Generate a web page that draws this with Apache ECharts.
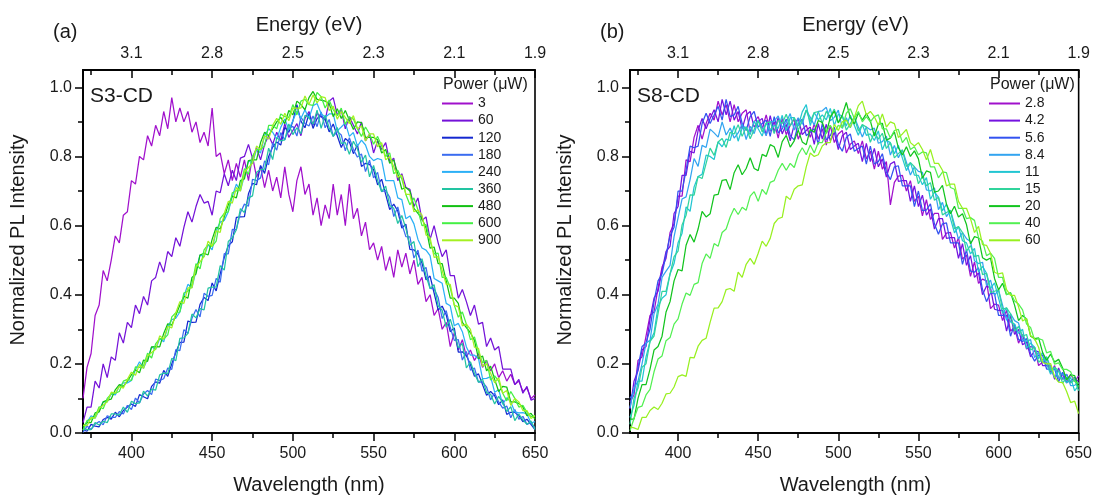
<!DOCTYPE html>
<html>
<head>
<meta charset="utf-8">
<script src="https://cdn.jsdelivr.net/npm/echarts@6/dist/echarts.min.js"></script>
<style>html,body{margin:0;padding:0;background:#fff}#c{width:1095px;height:495px}</style>
</head>
<body>
<div id="c"></div>
<script>
// ---------- DATA (2.5 nm steps) ----------
const wavelength = [
370,372.5,375,377.5,380,382.5,385,387.5,390,392.5,395,397.5,
400,402.5,405,407.5,410,412.5,415,417.5,420,422.5,425,427.5,
430,432.5,435,437.5,440,442.5,445,447.5,450,452.5,455,457.5,
460,462.5,465,467.5,470,472.5,475,477.5,480,482.5,485,487.5,
490,492.5,495,497.5,500,502.5,505,507.5,510,512.5,515,517.5,
520,522.5,525,527.5,530,532.5,535,537.5,540,542.5,545,547.5,
550,552.5,555,557.5,560,562.5,565,567.5,570,572.5,575,577.5,
580,582.5,585,587.5,590,592.5,595,597.5,600,602.5,605,607.5,
610,612.5,615,617.5,620,622.5,625,627.5,630,632.5,635,637.5,
640,642.5,645,647.5,650];

const wlTicks = [400,450,500,550,600,650];
const wlMinorTicks = [375,425,475,525,575,625];
const energyLabels = ['3.1','2.8','2.5','2.3','2.1','1.9'];
const yTicks = [0,0.2,0.4,0.6,0.8,1.0];
const yMinorTicks = [0.1,0.3,0.5,0.7,0.9];

// Panel (a) S3-CD, excitation power in µW
const powersA = ['3','60','120','180','240','360','480','600','900'];
const a3 = [0.10,0.19,0.23,0.34,0.37,0.47,0.44,0.50,0.57,0.55,0.63,0.64,
0.73,0.72,0.80,0.79,0.86,0.83,0.89,0.86,0.93,0.88,0.97,0.90,
0.94,0.90,0.93,0.87,0.90,0.84,0.87,0.83,0.94,0.80,0.81,0.75,
0.79,0.73,0.78,0.74,0.79,0.73,0.80,0.74,0.77,0.71,0.76,0.70,
0.74,0.68,0.77,0.69,0.64,0.73,0.77,0.69,0.72,0.63,0.68,0.60,
0.66,0.62,0.72,0.63,0.69,0.60,0.72,0.62,0.65,0.57,0.61,0.53,
0.55,0.50,0.54,0.47,0.51,0.45,0.53,0.48,0.52,0.46,0.50,0.43,
0.45,0.38,0.40,0.34,0.36,0.30,0.32,0.25,0.29,0.24,0.27,0.22,
0.24,0.21,0.23,0.19,0.21,0.18,0.20,0.16,0.18,0.15,0.17,0.14,
0.15,0.12,0.13,0.10,0.11];
const a60 = [0.03,0.075,0.075,0.15,0.13,0.20,0.16,0.22,0.21,0.29,0.26,0.32,
0.305,0.37,0.345,0.395,0.37,0.44,0.45,0.495,0.465,0.525,0.51,0.565,
0.54,0.595,0.64,0.61,0.655,0.69,0.665,0.67,0.63,0.70,0.695,0.75,
0.715,0.76,0.73,0.795,0.80,0.835,0.795,0.825,0.79,0.835,0.86,0.835,
0.87,0.845,0.895,0.855,0.875,0.895,0.86,0.91,0.93,0.89,0.925,0.915,
0.905,0.96,0.97,0.92,0.935,0.88,0.915,0.89,0.865,0.90,0.845,0.865,
0.81,0.845,0.82,0.84,0.785,0.795,0.73,0.75,0.71,0.705,0.655,0.68,
0.615,0.625,0.56,0.60,0.55,0.51,0.53,0.455,0.455,0.39,0.415,0.38,
0.34,0.37,0.315,0.32,0.25,0.275,0.24,0.25,0.185,0.185,0.185,0.14,
0.155,0.115,0.135,0.095,0.10];
const a120 = [0.009,0.005,0.025,0.02,0.018,0.039,0.045,0.04,0.06,0.047,0.065,0.075,
0.084,0.077,0.111,0.105,0.099,0.135,0.148,0.144,0.181,0.164,0.20,0.233,
0.262,0.263,0.324,0.32,0.321,0.372,0.392,0.383,0.434,0.411,0.46,0.507,
0.542,0.553,0.624,0.625,0.626,0.692,0.722,0.718,0.774,0.751,0.80,0.827,
0.842,0.833,0.884,0.87,0.902,0.95,0.902,0.883,0.924,0.881,0.91,0.917,
0.907,0.871,0.894,0.86,0.826,0.852,0.842,0.808,0.834,0.771,0.78,0.777,
0.762,0.718,0.734,0.69,0.646,0.662,0.642,0.593,0.604,0.531,0.53,0.517,
0.492,0.443,0.454,0.405,0.356,0.367,0.342,0.293,0.304,0.234,0.235,0.224,
0.198,0.164,0.171,0.14,0.109,0.12,0.108,0.082,0.096,0.054,0.06,0.06,
0.05,0.033,0.04,0.025,0.01];
const a180 = [0.002,0.02,0.01,0.025,0.033,0.024,0.05,0.045,0.045,0.062,0.055,0.08,
0.068,0.101,0.087,0.113,0.123,0.111,0.156,0.152,0.157,0.188,0.184,0.241,
0.238,0.299,0.288,0.332,0.357,0.336,0.404,0.395,0.398,0.447,0.436,0.519,
0.518,0.589,0.588,0.637,0.662,0.656,0.734,0.73,0.738,0.787,0.776,0.839,
0.818,0.869,0.848,0.882,0.887,0.859,0.914,0.895,0.888,0.917,0.886,0.929,
0.883,0.907,0.858,0.872,0.862,0.816,0.854,0.82,0.798,0.807,0.756,0.789,
0.738,0.754,0.698,0.702,0.682,0.626,0.654,0.605,0.568,0.567,0.506,0.529,
0.468,0.479,0.418,0.417,0.392,0.331,0.354,0.305,0.268,0.27,0.211,0.236,
0.182,0.188,0.147,0.148,0.133,0.096,0.116,0.09,0.072,0.078,0.044,0.068,
0.04,0.048,0.025,0.03,0.015];
const a240 = [0.008,0.031,0.05,0.043,0.066,0.09,0.09,0.113,0.11,0.135,0.145,0.145,
0.152,0.183,0.206,0.187,0.215,0.249,0.242,0.273,0.264,0.308,0.328,0.332,
0.35,0.395,0.43,0.42,0.47,0.515,0.51,0.545,0.53,0.585,0.61,0.615,
0.64,0.685,0.72,0.70,0.745,0.788,0.78,0.82,0.81,0.86,0.88,0.87,
0.85,0.884,0.908,0.877,0.903,0.932,0.91,0.935,0.91,0.947,0.953,0.924,
0.913,0.923,0.923,0.874,0.885,0.897,0.858,0.869,0.83,0.847,0.833,0.80,
0.788,0.794,0.79,0.73,0.73,0.73,0.68,0.675,0.62,0.628,0.605,0.56,
0.535,0.529,0.513,0.447,0.44,0.433,0.375,0.368,0.31,0.317,0.293,0.249,
0.225,0.225,0.215,0.157,0.158,0.163,0.118,0.125,0.083,0.102,0.09,0.061,
0.058,0.059,0.055,0.029,0.033];
const a360 = [0.014,0.01,0.01,0.03,0.023,0.034,0.03,0.055,0.055,0.052,0.075,0.06,
0.092,0.085,0.087,0.121,0.107,0.127,0.124,0.168,0.173,0.172,0.216,0.209,
0.274,0.275,0.288,0.344,0.333,0.36,0.356,0.419,0.422,0.423,0.484,0.471,
0.554,0.565,0.588,0.649,0.638,0.68,0.686,0.754,0.762,0.763,0.824,0.791,
0.854,0.845,0.848,0.894,0.863,0.883,0.866,0.919,0.912,0.893,0.934,0.881,
0.919,0.883,0.858,0.884,0.838,0.84,0.806,0.844,0.822,0.783,0.804,0.741,
0.774,0.73,0.698,0.714,0.658,0.65,0.606,0.629,0.592,0.543,0.554,0.481,
0.504,0.455,0.418,0.429,0.368,0.355,0.306,0.329,0.292,0.246,0.259,0.188,
0.206,0.172,0.147,0.156,0.117,0.112,0.084,0.106,0.088,0.062,0.076,0.036,
0.055,0.038,0.025,0.035,0.01];
const a480 = [0.018,0.031,0.03,0.058,0.061,0.09,0.095,0.098,0.125,0.14,0.135,0.15,
0.168,0.183,0.174,0.211,0.207,0.249,0.25,0.249,0.288,0.316,0.312,0.34,
0.37,0.395,0.39,0.45,0.46,0.515,0.52,0.515,0.56,0.595,0.59,0.625,
0.66,0.685,0.68,0.73,0.735,0.788,0.79,0.79,0.84,0.87,0.86,0.88,
0.90,0.913,0.895,0.933,0.92,0.96,0.95,0.935,0.97,0.988,0.965,0.963,
0.96,0.953,0.915,0.938,0.91,0.933,0.905,0.878,0.90,0.898,0.855,0.855,
0.855,0.848,0.81,0.82,0.78,0.79,0.75,0.705,0.71,0.70,0.65,0.635,
0.62,0.593,0.535,0.538,0.49,0.49,0.44,0.39,0.39,0.375,0.32,0.305,
0.29,0.268,0.215,0.223,0.18,0.193,0.155,0.12,0.135,0.133,0.09,0.09,
0.085,0.075,0.05,0.057,0.04];
const a600 = [0.008,0.036,0.04,0.048,0.076,0.07,0.10,0.113,0.115,0.12,0.15,0.155,
0.152,0.191,0.19,0.195,0.231,0.217,0.258,0.273,0.272,0.284,0.336,0.348,
0.35,0.405,0.41,0.43,0.49,0.475,0.53,0.545,0.54,0.555,0.62,0.635,
0.64,0.695,0.70,0.71,0.765,0.748,0.80,0.82,0.82,0.83,0.89,0.89,
0.88,0.923,0.915,0.913,0.95,0.92,0.96,0.965,0.95,0.948,0.985,0.973,
0.94,0.963,0.935,0.918,0.94,0.893,0.915,0.908,0.88,0.858,0.885,0.865,
0.835,0.858,0.83,0.80,0.81,0.75,0.76,0.735,0.69,0.66,0.68,0.645,
0.60,0.603,0.555,0.518,0.52,0.45,0.45,0.42,0.37,0.335,0.35,0.315,
0.27,0.278,0.235,0.203,0.21,0.153,0.165,0.15,0.115,0.093,0.12,0.10,
0.075,0.08,0.06,0.047,0.05];
const a900 = [0.023,0.021,0.045,0.043,0.071,0.08,0.09,0.118,0.115,0.135,0.13,0.155,
0.176,0.167,0.198,0.187,0.223,0.233,0.242,0.281,0.272,0.308,0.304,0.348,
0.38,0.375,0.42,0.42,0.48,0.495,0.51,0.555,0.54,0.585,0.58,0.635,
0.67,0.665,0.71,0.70,0.755,0.768,0.78,0.83,0.82,0.86,0.85,0.89,
0.91,0.893,0.925,0.903,0.94,0.94,0.94,0.975,0.95,0.978,0.955,0.973,
0.97,0.933,0.945,0.908,0.93,0.913,0.895,0.918,0.88,0.888,0.845,0.865,
0.865,0.828,0.84,0.79,0.80,0.77,0.74,0.745,0.69,0.69,0.64,0.645,
0.63,0.573,0.565,0.508,0.51,0.47,0.43,0.43,0.37,0.365,0.31,0.315,
0.30,0.248,0.245,0.193,0.20,0.173,0.145,0.16,0.115,0.123,0.08,0.10,
0.09,0.065,0.065,0.042,0.05];

// Panel (b) S8-CD, excitation power in µW
const powersB = ['2.8','4.2','5.6','8.4','11','15','20','40','60'];
const b2_8 = [0.09,0.11,0.21,0.22,0.28,0.34,0.35,0.42,0.48,0.505,0.58,0.605,
0.685,0.685,0.79,0.785,0.855,0.89,0.85,0.895,0.925,0.905,0.96,0.92,
0.95,0.90,0.95,0.90,0.925,0.935,0.87,0.90,0.915,0.88,0.92,0.873,
0.90,0.853,0.91,0.863,0.89,0.908,0.85,0.878,0.89,0.855,0.895,0.85,
0.88,0.833,0.89,0.84,0.865,0.875,0.81,0.835,0.845,0.808,0.845,0.793,
0.815,0.763,0.815,0.763,0.785,0.66,0.725,0.743,0.745,0.70,0.73,0.67,
0.685,0.628,0.675,0.618,0.635,0.635,0.56,0.578,0.58,0.535,0.565,0.503,
0.515,0.453,0.495,0.433,0.445,0.44,0.36,0.373,0.37,0.325,0.355,0.295,
0.305,0.26,0.285,0.243,0.25,0.248,0.195,0.205,0.205,0.175,0.195,0.158,
0.17,0.145,0.17,0.15,0.165];
const b4_2 = [0.07,0.15,0.18,0.24,0.25,0.33,0.39,0.41,0.47,0.525,0.54,0.635,
0.655,0.745,0.745,0.815,0.81,0.875,0.91,0.88,0.91,0.935,0.90,0.965,
0.92,0.96,0.905,0.93,0.88,0.92,0.93,0.885,0.90,0.91,0.86,0.918,
0.87,0.913,0.865,0.893,0.845,0.893,0.91,0.863,0.875,0.885,0.835,0.895,
0.85,0.893,0.845,0.87,0.82,0.86,0.87,0.82,0.83,0.838,0.785,0.838,
0.785,0.823,0.77,0.793,0.74,0.778,0.785,0.728,0.73,0.73,0.67,0.715,
0.655,0.688,0.63,0.648,0.59,0.62,0.62,0.563,0.565,0.565,0.505,0.548,
0.485,0.513,0.45,0.463,0.40,0.425,0.42,0.358,0.355,0.355,0.295,0.34,
0.285,0.30,0.255,0.263,0.22,0.238,0.235,0.195,0.195,0.195,0.155,0.188,
0.155,0.17,0.145,0.155,0.15];
const b5_6 = [0.10,0.12,0.19,0.25,0.26,0.30,0.38,0.44,0.46,0.515,0.57,0.595,
0.70,0.70,0.76,0.83,0.825,0.83,0.895,0.925,0.895,0.92,0.945,0.905,
0.965,0.915,0.92,0.945,0.895,0.875,0.915,0.93,0.885,0.895,0.905,0.858,
0.915,0.868,0.88,0.908,0.86,0.848,0.895,0.908,0.86,0.87,0.88,0.835,
0.895,0.848,0.86,0.885,0.835,0.815,0.855,0.865,0.815,0.823,0.83,0.778,
0.83,0.778,0.785,0.808,0.755,0.733,0.77,0.773,0.715,0.715,0.715,0.655,
0.70,0.643,0.645,0.663,0.605,0.575,0.605,0.608,0.55,0.55,0.55,0.488,
0.53,0.468,0.465,0.478,0.415,0.38,0.405,0.403,0.34,0.34,0.34,0.28,
0.315,0.27,0.265,0.273,0.23,0.208,0.225,0.225,0.185,0.185,0.185,0.148,
0.176,0.147,0.15,0.161,0.132];
const b8_4 = [0.073,0.13,0.15,0.20,0.26,0.268,0.345,0.373,0.45,0.468,0.485,0.568,
0.622,0.677,0.683,0.733,0.794,0.771,0.832,0.826,0.879,0.868,0.856,0.90,
0.862,0.882,0.853,0.868,0.894,0.849,0.887,0.866,0.904,0.883,0.861,0.90,
0.902,0.917,0.883,0.898,0.924,0.876,0.912,0.893,0.934,0.913,0.891,0.93,
0.932,0.942,0.903,0.913,0.934,0.881,0.912,0.883,0.914,0.885,0.856,0.885,
0.877,0.882,0.838,0.843,0.859,0.804,0.832,0.796,0.819,0.783,0.746,0.77,
0.757,0.754,0.703,0.70,0.709,0.646,0.667,0.626,0.644,0.603,0.561,0.58,
0.562,0.554,0.498,0.49,0.494,0.426,0.442,0.398,0.414,0.37,0.326,0.345,
0.325,0.318,0.27,0.265,0.27,0.218,0.235,0.203,0.22,0.19,0.16,0.18,
0.168,0.169,0.137,0.138,0.146];
const b11 = [0.045,0.08,0.15,0.15,0.22,0.265,0.29,0.365,0.39,0.40,0.46,0.49,
0.55,0.578,0.654,0.641,0.712,0.742,0.748,0.804,0.80,0.791,0.842,0.828,
0.85,0.846,0.889,0.844,0.882,0.885,0.863,0.902,0.88,0.859,0.897,0.876,
0.89,0.881,0.919,0.874,0.912,0.912,0.888,0.929,0.95,0.889,0.927,0.906,
0.92,0.906,0.939,0.889,0.922,0.917,0.888,0.919,0.89,0.861,0.892,0.861,
0.865,0.846,0.874,0.819,0.847,0.84,0.808,0.832,0.795,0.759,0.782,0.746,
0.745,0.718,0.739,0.676,0.697,0.682,0.643,0.662,0.62,0.579,0.597,0.556,
0.55,0.518,0.534,0.466,0.482,0.462,0.418,0.434,0.39,0.346,0.362,0.321,
0.315,0.288,0.30,0.245,0.26,0.248,0.215,0.233,0.20,0.17,0.19,0.16,
0.16,0.145,0.161,0.122,0.138];
const b15 = [0.025,0.10,0.13,0.19,0.20,0.265,0.28,0.345,0.41,0.41,0.46,0.51,
0.526,0.602,0.63,0.689,0.688,0.742,0.736,0.78,0.824,0.803,0.842,0.852,
0.826,0.87,0.865,0.892,0.858,0.885,0.851,0.878,0.904,0.871,0.897,0.90,
0.866,0.905,0.895,0.922,0.888,0.912,0.876,0.905,0.934,0.901,0.927,0.93,
0.896,0.93,0.915,0.937,0.898,0.917,0.876,0.895,0.914,0.873,0.892,0.885,
0.841,0.87,0.85,0.867,0.823,0.84,0.796,0.808,0.819,0.771,0.782,0.77,
0.721,0.742,0.715,0.724,0.673,0.682,0.631,0.638,0.644,0.591,0.597,0.58,
0.526,0.542,0.51,0.514,0.458,0.462,0.406,0.41,0.414,0.358,0.362,0.345,
0.295,0.308,0.28,0.285,0.24,0.248,0.205,0.213,0.22,0.18,0.19,0.18,
0.144,0.161,0.145,0.154,0.122];
const b20 = [0.04,0.04,0.10,0.14,0.14,0.185,0.24,0.25,0.28,0.35,0.38,0.44,
0.473,0.469,0.543,0.574,0.552,0.59,0.641,0.625,0.634,0.688,0.69,0.731,
0.733,0.704,0.753,0.776,0.747,0.765,0.796,0.765,0.759,0.806,0.80,0.834,
0.828,0.797,0.843,0.861,0.827,0.845,0.876,0.842,0.834,0.878,0.87,0.904,
0.898,0.867,0.913,0.931,0.897,0.92,0.956,0.912,0.894,0.926,0.905,0.924,
0.903,0.859,0.893,0.896,0.847,0.853,0.871,0.825,0.804,0.828,0.80,0.816,
0.793,0.737,0.758,0.754,0.697,0.70,0.716,0.662,0.634,0.656,0.625,0.634,
0.603,0.547,0.568,0.564,0.507,0.50,0.506,0.447,0.414,0.433,0.40,0.406,
0.37,0.325,0.34,0.33,0.28,0.273,0.275,0.233,0.21,0.228,0.205,0.213,
0.188,0.154,0.168,0.166,0.132];
const b40 = [0.006,0.042,0.074,0.078,0.11,0.126,0.177,0.214,0.223,0.267,0.276,0.315,
0.33,0.373,0.405,0.398,0.43,0.435,0.49,0.518,0.505,0.548,0.54,0.58,
0.59,0.625,0.65,0.632,0.653,0.644,0.685,0.698,0.67,0.705,0.69,0.725,
0.73,0.76,0.78,0.76,0.78,0.768,0.805,0.825,0.805,0.833,0.81,0.84,
0.84,0.87,0.89,0.87,0.89,0.883,0.925,0.938,0.91,0.93,0.90,0.915,
0.90,0.915,0.92,0.88,0.88,0.853,0.875,0.878,0.84,0.855,0.82,0.828,
0.805,0.813,0.81,0.77,0.77,0.738,0.755,0.753,0.71,0.705,0.65,0.65,
0.62,0.623,0.615,0.565,0.555,0.513,0.52,0.505,0.45,0.45,0.40,0.405,
0.382,0.373,0.356,0.315,0.305,0.269,0.273,0.269,0.232,0.236,0.199,0.203,
0.184,0.184,0.177,0.149,0.143];
const b60 = [0.018,0.015,0.01,0.045,0.045,0.065,0.075,0.068,0.086,0.113,0.115,0.133,
0.163,0.168,0.164,0.219,0.217,0.251,0.268,0.274,0.32,0.361,0.362,0.38,
0.415,0.418,0.41,0.465,0.45,0.488,0.505,0.488,0.52,0.555,0.54,0.563,
0.606,0.62,0.624,0.685,0.675,0.705,0.715,0.718,0.77,0.81,0.80,0.805,
0.83,0.84,0.84,0.893,0.875,0.90,0.905,0.884,0.913,0.947,0.96,0.92,
0.93,0.915,0.89,0.923,0.885,0.90,0.895,0.855,0.865,0.878,0.84,0.83,
0.84,0.82,0.79,0.82,0.78,0.78,0.76,0.715,0.72,0.72,0.67,0.65,
0.65,0.62,0.58,0.598,0.545,0.543,0.52,0.465,0.46,0.463,0.415,0.398,
0.398,0.365,0.324,0.331,0.282,0.273,0.248,0.204,0.20,0.201,0.162,0.147,
0.146,0.12,0.088,0.092,0.056];

const seriesA = [a3,a60,a120,a180,a240,a360,a480,a600,a900];
const seriesB = [b2_8,b4_2,b5_6,b8_4,b11,b15,b20,b40,b60];
const colorsA = ['#a010cc','#7412d8','#1428d0','#3a6cf0','#2cb0f6','#22c4a2','#12c012','#44f044','#a4f022'];
const colorsB = ['#a010cc','#7412e0','#3252f0','#32a4f0','#22c6d2','#30d49c','#12c41e','#52f052','#98f020'];

// ---------- CHART ----------
const FONT = "'Liberation Sans', Arial, sans-serif";
const TXT = '#1a1a1a';
const panels = [
  {left:83, width:452, label:'(a)', sample:'S3-CD', powers:powersA, data:seriesA, colors:colorsA, key:'a'},
  {left:630, width:451, label:'(b)', sample:'S8-CD', powers:powersB, data:seriesB, colors:colorsB, key:'b'}
];
const TOP = 70, H = 363;

const grid = [], xAxis = [], yAxis = [], series = [], legend = [], graphic = [];
panels.forEach((p, i) => {
  grid.push({left:p.left, top:TOP, width:p.width, height:H, show:true, borderColor:'#000', borderWidth:1.6, backgroundColor:'transparent'});
  const baseX = {type:'value', gridIndex:i, min:370, max:650, splitLine:{show:false},
    axisLine:{show:true, onZero:false, lineStyle:{color:'#000', width:1.6}}};
  xAxis.push(Object.assign({}, baseX, {position:'bottom',
    axisTick:{show:true, customValues:wlTicks, length:8, lineStyle:{color:'#000', width:1.5}},
    axisLabel:{show:true, customValues:wlTicks, margin:13, fontSize:16, color:TXT, fontFamily:FONT}}));
  xAxis.push(Object.assign({}, baseX, {position:'bottom',
    axisTick:{show:true, customValues:wlMinorTicks, length:5, lineStyle:{color:'#000', width:1.5}},
    axisLabel:{show:false}}));
  xAxis.push(Object.assign({}, baseX, {position:'top',
    axisTick:{show:true, inside:true, customValues:wlTicks, length:8, lineStyle:{color:'#000', width:1.5}},
    axisLabel:{show:true, customValues:wlTicks, margin:8, fontSize:16, color:TXT, fontFamily:FONT,
      formatter: v => energyLabels[wlTicks.indexOf(v)]}}));
  xAxis.push(Object.assign({}, baseX, {position:'top',
    axisTick:{show:true, inside:true, customValues:wlMinorTicks, length:5, lineStyle:{color:'#000', width:1.5}},
    axisLabel:{show:false}}));
  const baseY = {type:'value', gridIndex:i, min:0, max:1.05, position:'left', splitLine:{show:false},
    axisLine:{show:true, onZero:false, lineStyle:{color:'#000', width:1.6}}};
  yAxis.push(Object.assign({}, baseY, {
    axisTick:{show:true, customValues:yTicks, length:8, lineStyle:{color:'#000', width:1.5}},
    axisLabel:{show:true, customValues:yTicks, margin:11, fontSize:16, color:TXT, fontFamily:FONT,
      formatter: v => v.toFixed(1)}}));
  yAxis.push(Object.assign({}, baseY, {
    axisTick:{show:true, customValues:yMinorTicks, length:5, lineStyle:{color:'#000', width:1.5}},
    axisLabel:{show:false}}));

  const names = [];
  p.data.forEach((vals, k) => {
    const name = p.key + '|' + p.powers[k];
    names.push(name);
    const pts = [];
    for (let j = 0; j < wavelength.length && j < vals.length; j++) pts.push([wavelength[j], vals[j]]);
    series.push({
      type:'line', name:name, xAxisIndex:i*4, yAxisIndex:i*2,
      data: pts, symbol:'none', showSymbol:false, silent:true,
      lineStyle:{color:p.colors[k], width:1.25},
      itemStyle:{color:p.colors[k]},
      emphasis:{disabled:true}
    });
  });
  legend.push({
    data:names, orient:'vertical', left:p.left + 359, top:95,
    icon:'rect', itemWidth:31, itemHeight:2, itemGap:0.1, selectedMode:false,
    textStyle:{fontSize:14, color:TXT, fontFamily:FONT, lineHeight:17},
    formatter: n => n.split('|')[1], padding:0
  });

  const cx = p.left + p.width / 2;
  graphic.push(
    {type:'text', left:p.left - 30, top:22, style:{text:p.label, font:'20px ' + FONT, fill:TXT}},
    {type:'text', x:cx, y:25, style:{text:'Energy (eV)', font:'20px ' + FONT, fill:TXT, textAlign:'center', textVerticalAlign:'middle'}},
    {type:'text', x:p.left + 7, y:96, style:{text:p.sample, font:'21px ' + FONT, fill:TXT, textVerticalAlign:'middle'}},
    {type:'text', x:p.left + 360, y:85, style:{text:'Power (\u03bcW)', font:'16px ' + FONT, fill:TXT, textVerticalAlign:'middle'}},
    {type:'text', x:cx, y:485, style:{text:'Wavelength (nm)', font:'20px ' + FONT, fill:TXT, textAlign:'center', textVerticalAlign:'middle'}},
    {type:'text', x:p.left - 65, y:240, rotation:Math.PI/2, style:{text:'Normalized PL Intensity', font:'20px ' + FONT, fill:TXT, textAlign:'center', textVerticalAlign:'middle'}}
  );
});

const chart = echarts.init(document.getElementById('c'), null, {renderer:'canvas'});
chart.setOption({animation:false, backgroundColor:'#fff', textStyle:{fontFamily:FONT},
  grid, xAxis, yAxis, series, legend, graphic});
</script>
</body>
</html>
